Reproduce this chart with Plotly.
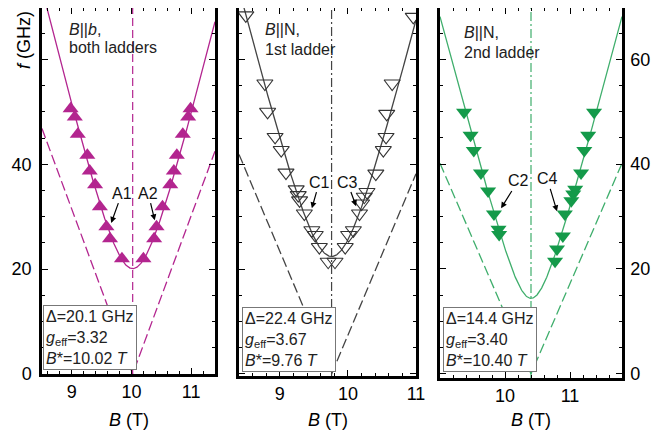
import numpy as np
import plotly.graph_objects as go

# ---------------- data ----------------
MU_B = 13.996  # GHz per Tesla (Bohr magneton / h)

panel_delta = [20.1, 22.4, 14.4]      # GHz
panel_geff = [3.32, 3.67, 3.40]
panel_bstar = [10.02, 9.76, 10.40]    # T
panel_gdash = [2.2, 2.2, 2.05]        # slope of dashed V lines (g)
panel_xrange = [[8.5, 11.4], [8.4, 11.0], [9.0, 11.8]]
panel_xticks = [[9, 10, 11], [9, 10, 11], [10, 11]]

# Panel A: B || b, both ladders
a_B = [8.98, 9.05, 9.10, 9.26, 9.30, 9.39, 9.47, 9.58, 9.64, 9.84,
       10.20, 10.38, 10.42, 10.52, 10.65, 10.71, 10.76, 10.86, 10.95, 10.99]
a_f = [50.6, 49.0, 45.7, 41.7, 38.7, 36.1, 31.9, 28.1, 25.8, 22.0,
       22.0, 25.8, 28.1, 31.9, 36.1, 38.7, 41.7, 45.7, 49.0, 50.6]

# Panel B: B || N, 1st ladder
b_B = [8.50, 8.78, 8.82, 8.93, 9.02, 9.09, 9.24, 9.27, 9.29, 9.36,
       9.47, 9.52, 9.58, 9.71, 9.81,
       9.96, 10.01, 10.08, 10.17, 10.20, 10.24, 10.28, 10.41, 10.52,
       10.56, 10.57, 10.65, 10.96]
b_f = [68.4, 55.4, 50.0, 45.2, 42.7, 38.4, 35.2, 34.1, 33.1, 30.6,
       27.4, 26.5, 24.2, 21.4, 21.4,
       24.2, 26.5, 27.4, 30.6, 32.5, 33.8, 34.7, 38.2, 42.7,
       45.2, 49.6, 55.4, 68.1]

# Panel C: B || N, 2nd ladder
c_B = [9.37, 9.47, 9.52, 9.63, 9.74, 9.83, 9.90, 9.91,
       10.77, 10.80, 10.89, 10.92, 11.02, 11.05, 11.08, 11.17, 11.22, 11.28, 11.37]
c_f = [49.9, 45.5, 42.6, 38.3, 34.9, 30.5, 27.6, 26.6,
       21.5, 23.8, 26.3, 30.5, 33.0, 34.3, 35.2, 38.3, 42.6, 45.5, 49.9]

panel_titles = [("<i>B</i>||<i>b</i>,", "both ladders"),
                ("<i>B</i>||N,", "1st ladder"),
                ("<i>B</i>||N,", "2nd ladder")]
arrow_labels = [["A1", "A2"], ["C1", "C3"], ["C2", "C4"]]
arrow_tail = [[(9.84, 34.5), (10.28, 34.5)],
              [(9.58, 36.6), (9.99, 36.6)],
              [(10.20, 36.8), (10.65, 37.2)]]
arrow_head = [[(9.66, 28.8), (10.39, 29.3)],
              [(9.47, 31.6), (10.12, 32.0)],
              [(9.94, 31.6), (10.80, 31.0)]]

# ---------------- style ----------------
OFF = 8                 # default page body margin
W, H = 668 - OFF, 438 - OFF
FONT = "Liberation Sans, Arial, sans-serif"


def px(xp):
    return min(1.0, max(0.0, (xp - OFF) / W))


def py(yp):
    return min(1.0, max(0.0, 1 - (yp - OFF) / H))


line_colors = ["#B3258F", "#444444", "#3FAE6C"]
marker_colors = ["#B3258F", "#333333", "#149A4A"]
markers = ["triangle-up", "triangle-down-open", "triangle-down"]
vdash = ["8px,4px", "9px,3px,2px,3px", "9px,3px,2px,3px"]
xdom_px = [(42, 215), (239, 416), (440, 622)]
ydom_px = [(8, 374), (8, 376), (8, 378)]
yranges = [[0, 69.8], [-0.4, 69.8], [-0.8, 69.8]]
box_px = [(43, 370), (242, 372), (443, 372)]
title_px = [(67, 29, 47), (263, 30, 49), (462, 33, 52)]
data_B = [a_B, b_B, c_B]
data_f = [a_f, b_f, c_f]

fig = go.Figure()

for i in range(3):
    xa = "x" if i == 0 else f"x{i+1}"
    ya = "y" if i == 0 else f"y{i+1}"
    d, g, bs, gd = panel_delta[i], panel_geff[i], panel_bstar[i], panel_gdash[i]
    x0, x1 = panel_xrange[i]
    Bc = np.linspace(x0, x1, 400)
    fc = np.sqrt(d**2 + (g * MU_B * (Bc - bs))**2)
    fig.add_trace(go.Scatter(x=Bc, y=fc, mode="lines", xaxis=xa, yaxis=ya,
                             line=dict(color=line_colors[i], width=1.3),
                             showlegend=False, hoverinfo="skip"))
    # dashed V
    fig.add_trace(go.Scatter(x=[x0, bs, x1],
                             y=[gd * MU_B * abs(x0 - bs), 0, gd * MU_B * abs(x1 - bs)],
                             mode="lines", xaxis=xa, yaxis=ya,
                             line=dict(color=line_colors[i], width=1.3, dash="10px,4px"),
                             showlegend=False, hoverinfo="skip"))
    # vertical B*
    fig.add_trace(go.Scatter(x=[bs, bs], y=[yranges[i][0], 70], mode="lines",
                             xaxis=xa, yaxis=ya,
                             line=dict(color=line_colors[i], width=1.2, dash=vdash[i]),
                             showlegend=False, hoverinfo="skip"))
    # data points
    mk = dict(symbol=markers[i], size=14, color=marker_colors[i])
    if i == 1:
        mk["line"] = dict(width=1.1, color=marker_colors[i])
    else:
        mk["line"] = dict(width=0)
    fig.add_trace(go.Scatter(x=data_B[i], y=data_f[i], mode="markers",
                             xaxis=xa, yaxis=ya, marker=mk, showlegend=False))

    # axes
    xk = "xaxis" if i == 0 else f"xaxis{i+1}"
    yk = "yaxis" if i == 0 else f"yaxis{i+1}"
    fig.layout[xk] = dict(
        domain=[px(xdom_px[i][0]), px(xdom_px[i][1])], range=panel_xrange[i],
        anchor=ya, showgrid=False, zeroline=False, automargin=False,
        showline=True, linewidth=2.5, linecolor="black", mirror="allticks",
        ticks="inside", ticklen=6, tickwidth=1, tickcolor="black",
        tickvals=panel_xticks[i], ticktext=[str(t) for t in panel_xticks[i]],
        minor=dict(dtick=0.2, tick0=0, ticks="inside", ticklen=3.5, tickwidth=1, tickcolor="black"),
        tickfont=dict(family=FONT, size=18, color="black"), ticklabelstandoff=0,
    )
    ydict = dict(
        domain=[py(ydom_px[i][1]), py(ydom_px[i][0])], range=yranges[i],
        anchor=xa, showgrid=False, zeroline=False, automargin=False,
        showline=True, linewidth=2.5, linecolor="black", mirror="allticks",
        ticks="inside", ticklen=6, tickwidth=1, tickcolor="black",
        tickvals=[0, 20, 40, 60],
        minor=dict(dtick=5, tick0=0, ticks="inside", ticklen=3.5, tickwidth=1, tickcolor="black"),
        tickfont=dict(family=FONT, size=18, color="black"),
    )
    if i == 0:
        ydict["ticktext"] = ["0", "20", "40", ""]
        ydict["ticklabelstandoff"] = 4
    elif i == 1:
        ydict["showticklabels"] = False
    else:
        ydict["side"] = "right"
        ydict["ticktext"] = ["0", "20", "40", "60"]
        ydict["ticklabelstandoff"] = 2
    fig.layout[yk] = ydict

    # panel title text
    tx, ty1, ty2 = title_px[i]
    for txt, ty in [(panel_titles[i][0], ty1), (panel_titles[i][1], ty2)]:
        fig.add_annotation(xref="paper", yref="paper", x=px(tx), y=py(ty),
                           xanchor="left", yanchor="middle", showarrow=False,
                           text=txt, font=dict(family=FONT, size=16, color="#222"))

    # parameter box
    bx, by = box_px[i]
    fig.add_annotation(
        xref="paper", yref="paper", x=px(bx), y=py(by), xanchor="left", yanchor="bottom",
        showarrow=False, align="left",
        text=(f"Δ={d:.1f} GHz<br><i>g</i><sub>eff</sub>={g:.2f}<br>"
              f"<i>B</i>*={bs:.2f} <i>T</i>"),
        font=dict(family=FONT, size=16, color="#222"),
        bgcolor="white", bordercolor="#777", borderwidth=1, borderpad=2)

    # arrows
    for lab, (tbx, tby), (hbx, hby) in zip(arrow_labels[i], arrow_tail[i], arrow_head[i]):
        fig.add_annotation(xref=xa, yref=ya, axref=xa, ayref=ya,
                           x=hbx, y=hby, ax=tbx, ay=tby, text=lab, showarrow=True,
                           arrowhead=2, arrowsize=1, arrowwidth=1.2, arrowcolor="black",
                           font=dict(family=FONT, size=16, color="#111"), standoff=0)

    # x axis title
    cx = (xdom_px[i][0] + xdom_px[i][1]) / 2
    fig.add_annotation(xref="paper", yref="paper", x=px(cx), y=py(420),
                       xanchor="center", yanchor="middle", showarrow=False,
                       text="<i>B</i> (T)", font=dict(family=FONT, size=18, color="black"))

# y axis title
fig.add_annotation(xref="paper", yref="paper", x=px(24), y=py(40),
                   xanchor="center", yanchor="middle", showarrow=False, textangle=-90,
                   text="<i>f</i> (GHz)", font=dict(family=FONT, size=18, color="black"))

fig.update_layout(width=W, height=H, margin=dict(l=0, r=0, t=0, b=0, pad=0),
                  paper_bgcolor="white", plot_bgcolor="white", showlegend=False)

fig.write_html("out.html")
